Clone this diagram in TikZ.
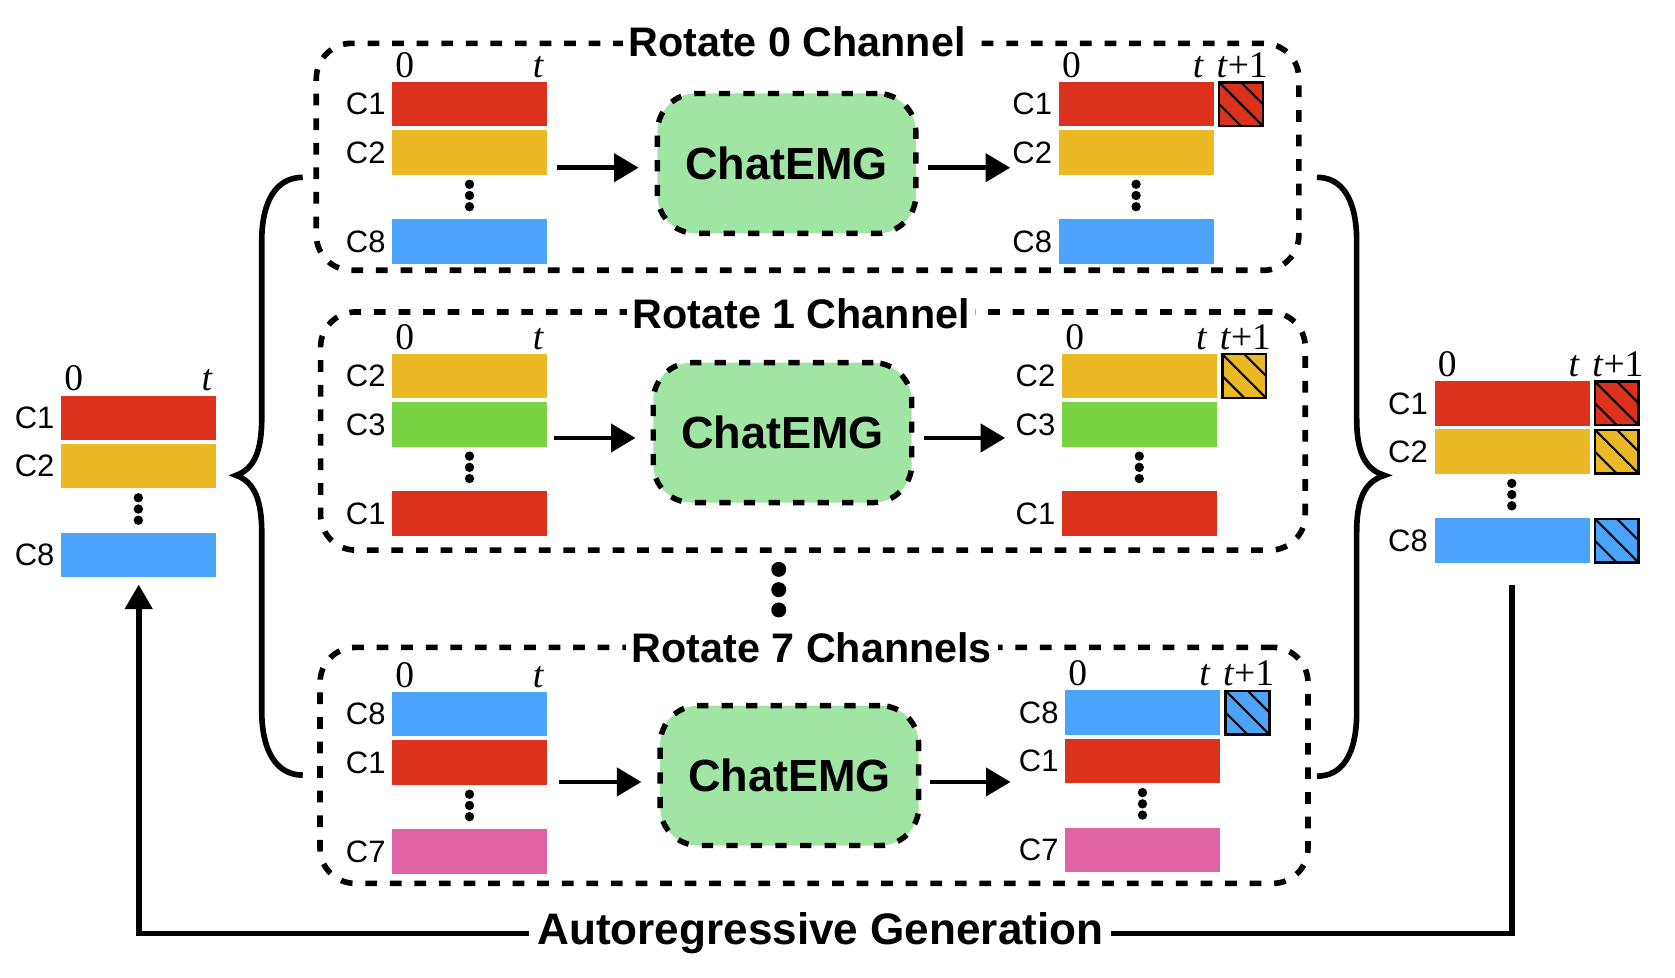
\documentclass[tikz,border=0pt]{standalone}
\usepackage{fontspec}
\setmainfont{Liberation Serif}
\newfontfamily\sansf{Liberation Sans}
\usetikzlibrary{arrows.meta,calc}

\definecolor{cred}{RGB}{220,49,29}
\definecolor{corange}{RGB}{236,185,38}
\definecolor{cblue}{RGB}{76,163,251}
\definecolor{cgreen}{RGB}{122,211,67}
\definecolor{cpink}{RGB}{223,99,165}
\definecolor{cchat}{RGB}{161,229,164}

\tikzset{
  barbox/.style={rectangle, inner sep=0pt, minimum width=2.9cm, minimum height=0.83cm, draw=none},
  hatchsq/.style={rectangle, inner sep=0pt, minimum size=0.82cm, draw=black, line width=1.3pt,
    path picture={
      \draw[line width=1.1pt] (path picture bounding box.north west) -- (path picture bounding box.south east);
      \draw[line width=1.1pt] ($(path picture bounding box.north west)!0.5!(path picture bounding box.north east)$) -- ($(path picture bounding box.north east)!0.5!(path picture bounding box.south east)$);
      \draw[line width=1.1pt] ($(path picture bounding box.north west)!0.5!(path picture bounding box.south west)$) -- ($(path picture bounding box.south west)!0.5!(path picture bounding box.south east)$);
    }},
  chlab/.style={font=\sansf\fontsize{16.5}{19}\selectfont, inner sep=0pt},
  axlab/.style={font=\fontsize{20}{23}\selectfont, inner sep=0pt, anchor=base},
  vdot/.style={circle, fill=black, inner sep=0pt, minimum size=5pt},
  bigdot/.style={circle, fill=black, inner sep=0pt, minimum size=8pt},
  groupbox/.style={rectangle, draw=black, line width=3pt, dash pattern=on 0.22cm off 0.24cm, rounded corners=0.66cm, inner sep=0pt},
  chatbox/.style={rectangle, draw=black, fill=cchat, line width=2.9pt, dash pattern=on 0.21cm off 0.25cm,
    rounded corners=0.72cm, minimum width=4.84cm, minimum height=2.62cm, inner sep=0pt,
    font=\sansf\bfseries\fontsize{24}{28}\selectfont},
  grouptitle/.style={fill=white, inner xsep=3pt, inner ysep=2pt, font=\sansf\bfseries\fontsize{22}{26}\selectfont},
  gentext/.style={fill=white, inner xsep=4pt, inner ysep=2pt, font=\sansf\bfseries\fontsize{23.5}{27}\selectfont},
  flow/.style={line width=2.6pt, -{Triangle[length=0.46cm, width=0.52cm]}},
  bracecurve/.style={line width=3pt},
  loopline/.style={line width=3pt},
}

% #1 prefix, #2 left x, #3 top y, #4 label1, #5 colour1, #6 label2, #7 colour2, #8 label3, #9 colour3
\newcommand\chanstack[9]{%
  \node[barbox,fill=#5,anchor=north west] (#1r1) at (#2,#3) {};
  \node[barbox,fill=#7,anchor=north west] (#1r2) at (#2,#3+45.2) {};
  \node[barbox,fill=#9,anchor=north west] (#1r3) at (#2,#3+128.5) {};
  \node[chlab] (#1c1) at ($(#1r1.center)+(-97.5,0)$) {#4};
  \node[chlab] (#1c2) at ($(#1r2.center)+(-97.5,0)$) {#6};
  \node[chlab] (#1c3) at ($(#1r3.center)+(-97.5,0)$) {#8};
  \node[vdot] (#1d1) at (#2+72.5,#3+96) {};
  \node[vdot] (#1d2) at (#2+72.5,#3+106.5) {};
  \node[vdot] (#1d3) at (#2+72.5,#3+117) {};
  \node[axlab] (#1zero) at (#2+12,#3-4) {0};
}
% input time label: #1 prefix, #2 left x, #3 top y
\newcommand\intlabel[3]{%
  \node[axlab] (#1tl) at (#2+137,#3-4) {\textit{t}};
}
% output labels + hatched square for row 1 : #1 prefix, #2 left x, #3 top y, #4 colour
\newcommand\outlabel[4]{%
  \node[hatchsq,fill=#4,anchor=west] (#1h1) at ($(#1r1.east)+(3.5,0)$) {};
  \node[axlab] (#1tl) at (#2+131,#3-4) {\textit{t}};
  \node[axlab] (#1tp) at ($(#1h1.center |- #1tl.base)+(1,0)$) {\textit{t}+1};
}

\begin{document}
\begin{tikzpicture}[x=0.02cm, y=-0.02cm]
\useasboundingbox (0,0) rectangle (1568,915);

% ---------- group boxes ----------
\node[groupbox, minimum width=18.4cm, minimum height=4.25cm] (boxA) at (756,146.8) {};
\node[groupbox, minimum width=18.44cm, minimum height=4.46cm] (boxB) at (761,403.5) {};
\node[groupbox, minimum width=18.5cm, minimum height=4.42cm] (boxC) at (762,716.5) {};

% middle dots (drawn before the title, which covers the last one partly)
\node[bigdot] (md1) at (729,533) {};
\node[bigdot] (md2) at (729,552) {};
\node[bigdot] (md3) at (729,571) {};

\node[grouptitle] (titA) at (746,39) {Rotate 0 Channel};
\node[grouptitle] (titB) at (750,294) {Rotate 1 Channel};
\node[grouptitle] (titC) at (760,606) {Rotate 7 Channels};

% ---------- box A ----------
\chanstack{Ai}{367}{76.5}{C1}{cred}{C2}{corange}{C8}{cblue}
\intlabel{Ai}{367}{76.5}
\node[chatbox] (chatA) at (736.4,153) {ChatEMG};
\chanstack{Ao}{991}{76.5}{C1}{cred}{C2}{corange}{C8}{cblue}
\outlabel{Ao}{991}{76.5}{cred}
\coordinate (Aa) at (521,157);
\coordinate (Ab) at (945.7,157);
\draw[flow, shorten >=0.3cm] (Aa) -- (Aa -| chatA.west);
\draw[flow, shorten <=0.17cm] (chatA.east |- Ab) -- (Ab);

% ---------- box B ----------
\chanstack{Bi}{367}{331}{C2}{corange}{C3}{cgreen}{C1}{cred}
\intlabel{Bi}{367}{331}
\node[chatbox] (chatB) at (732.5,405) {ChatEMG};
\chanstack{Bo}{994}{331}{C2}{corange}{C3}{cgreen}{C1}{cred}
\outlabel{Bo}{994}{331}{corange}
\coordinate (Ba) at (519,410);
\coordinate (Bb) at (941,410);
\draw[flow, shorten >=0.28cm] (Ba) -- (Ba -| chatB.west);
\draw[flow, shorten <=0.17cm] (chatB.east |- Bb) -- (Bb);

% ---------- box C ----------
\chanstack{Ci}{367}{647.5}{C8}{cblue}{C1}{cred}{C7}{cpink}
\intlabel{Ci}{367}{647.5}
\node[chatbox] (chatC) at (739,726) {ChatEMG};
\chanstack{Co}{997}{646}{C8}{cblue}{C1}{cred}{C7}{cpink}
\outlabel{Co}{997}{646}{cblue}
\coordinate (Ca) at (523,732);
\coordinate (Cb) at (946,732);
\draw[flow, shorten >=0.3cm] (Ca) -- (Ca -| chatC.west);
\draw[flow, shorten <=0.17cm] (chatC.east |- Cb) -- (Cb);

% ---------- left stack ----------
\chanstack{L}{57}{370}{C1}{cred}{C2}{corange}{C8}{cblue}
\intlabel{L}{57}{370}

% ---------- right stack ----------
\chanstack{R}{1342.7}{356.5}{C1}{cred}{C2}{corange}{C8}{cblue}
\outlabel{R}{1342.7}{356.5}{cred}
\node[hatchsq,fill=corange,anchor=west] (Rh2) at ($(Rr2.east)+(3.5,0)$) {};
\node[hatchsq,fill=cblue,anchor=west] (Rh3) at ($(Rr3.east)+(3.5,0)$) {};

% ---------- braces ----------
\draw[bracecurve] (283.4,166) .. controls (260,166) and (245,186) .. (245,226)
  -- (245,392) .. controls (245,422) and (238,439) .. (221,445)
  .. controls (238,451) and (245,468) .. (245,498)
  -- (245,665) .. controls (245,705) and (260,725.6) .. (283.4,725.6);
\draw[bracecurve] (1232.8,166) .. controls (1256,166) and (1270,186) .. (1270,226)
  -- (1270,392) .. controls (1270,422) and (1277,439) .. (1296,445)
  .. controls (1277,451) and (1270,468) .. (1270,498)
  -- (1270,667) .. controls (1270,707) and (1256,726.6) .. (1232.8,726.6);

% ---------- autoregressive loop ----------
\node[gentext] (gen) at (768,874) {Autoregressive Generation};
\coordinate (loopR) at ($(Rr3.south)+(0,20)$);
\coordinate (loopL) at ($(Lr3.south)+(0,6.5)$);
\draw[loopline] (loopR) |- (gen.east);
\draw[loopline, -{Triangle[length=0.46cm, width=0.5cm]}] (gen.west) -| (loopL);

\end{tikzpicture}
\end{document}
